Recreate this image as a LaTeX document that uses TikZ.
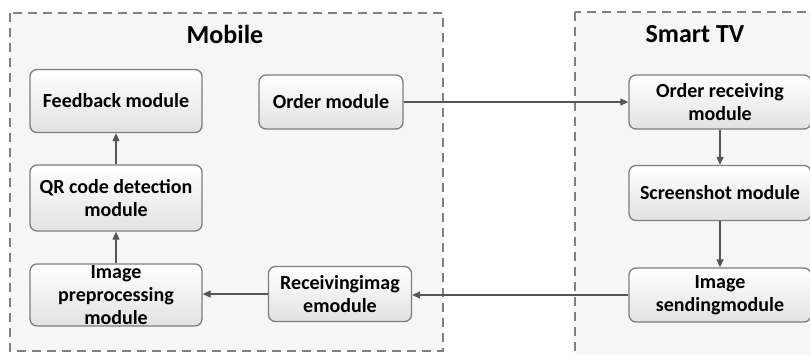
\documentclass[tikz,border=0pt]{standalone}
\usepackage{fontspec}
\setmainfont{Carlito}
\usetikzlibrary{arrows.meta}
\definecolor{framegray}{RGB}{128,128,128}
\definecolor{framefill}{RGB}{246,246,246}
\definecolor{boxborder}{RGB}{125,125,125}
\definecolor{boxbottom}{RGB}{226,226,226}
\definecolor{arrowgray}{RGB}{85,85,85}
\tikzset{
  frame/.style={draw=framegray, line width=1.2pt, dash pattern=on 9pt off 6pt, fill=framefill},
  modbox/.style={draw=boxborder, line width=1.3pt, rounded corners=7pt, top color=white, bottom color=boxbottom,
    align=center, inner sep=0pt, font=\bfseries\fontsize{20}{23}\selectfont},
  title/.style={font=\bfseries\fontsize{26}{30}\selectfont},
  conn/.style={draw=arrowgray, line width=1.2pt, -{Triangle[length=8pt,width=7pt]}}
}
\begin{document}
\begin{tikzpicture}[x=1pt,y=-1pt]
\useasboundingbox (0,0) rectangle (810,354);
\begin{scope}
\clip (0,0) rectangle (810,354);
\path[frame] (10,13) rectangle (443,351);
\path[frame] (575,12) rectangle (840,380);
\node[title] (mobile) at (225,34) {Mobile};
\node[title] (tv) at (695,34) {Smart TV};
\node[modbox, minimum width=172pt, minimum height=63pt] (feed) at (116,101) {Feedback module};
\node[modbox, minimum width=144pt, minimum height=54pt] (order) at (331,102) {Order module};
\node[modbox, minimum width=172pt, minimum height=66pt] (qr) at (116,198) {QR code detection\\module};
\node[modbox, minimum width=172pt, minimum height=62pt] (pre) at (116,295) {Image\\preprocessing\\module};
\node[modbox, minimum width=143pt, minimum height=55pt] (recv) at (340,294) {Receivingimag\\emodule};
\node[modbox, minimum width=182pt, minimum height=54pt] (orecv) at (720,102) {Order receiving\\module};
\node[modbox, minimum width=182pt, minimum height=55pt] (shot) at (720,193) {Screenshot module};
\node[modbox, minimum width=182pt, minimum height=54pt] (send) at (720,295) {Image\\sendingmodule};
\end{scope}
\draw[conn] (order.east) -- (orecv.west |- order.east);
\draw[conn] (orecv) -- (shot);
\draw[conn] (shot) -- (send);
\draw[conn] (send.west) -- (recv.east |- send.west);
\draw[conn] (recv.west) -- (pre.east |- recv.west);
\draw[conn] (pre) -- (qr);
\draw[conn] (qr) -- (feed);
\end{tikzpicture}
\end{document}
